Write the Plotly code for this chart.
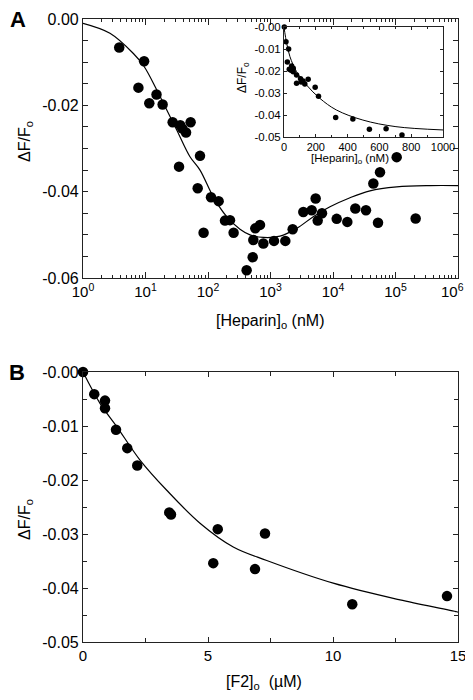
import plotly.graph_objects as go

# ---------------- data: panel A (main, log x) ----------------
hep_x = [3.8, 9.5, 7.7, 15, 11.5, 18.8, 27.2, 36, 52.7, 44.5, 39, 74.5,
         34.4, 68.4, 111.7, 148, 187, 225, 85, 257,
         415, 519, 531, 571, 679, 768, 1138, 1727, 2263, 3350, 4560, 5280,
         6670, 5690, 11460, 16950, 22750, 33700, 44200, 56500, 52500,
         104500, 210000]
hep_y = [-0.0066, -0.0098, -0.0159, -0.0175, -0.0195, -0.0198, -0.0239, -0.0246,
         -0.0239, -0.0263, -0.0254, -0.0317,
         -0.0342, -0.0392, -0.0413, -0.0422, -0.0467, -0.0466, -0.0495, -0.0495,
         -0.0582, -0.0552, -0.0512, -0.0485, -0.0477, -0.0520, -0.0514, -0.0514,
         -0.0487, -0.0447, -0.0443, -0.0416, -0.0450, -0.0467, -0.0463, -0.0470,
         -0.0439, -0.0443, -0.0381, -0.0355, -0.0472, -0.0320, -0.0462]

fitA_x = [1, 2.7, 6.4, 9.5, 15.1, 21.9, 31.6, 51.5, 74.5, 121.6, 199.5, 325,
          470, 768, 1419, 2624, 4842, 8954, 18710, 39080, 104700, 354800, 1000000]
fitA_y = [-0.0010, -0.0033, -0.0080, -0.0110, -0.0164, -0.0211, -0.0257, -0.0319,
          -0.0350, -0.0412, -0.0458, -0.0487, -0.0500, -0.0506, -0.0503, -0.0485,
          -0.0458, -0.0435, -0.0414, -0.0398, -0.0389, -0.0386, -0.0386]

# ---------------- data: inset (linear x) ----------------
ins_x = [2, 12.5, 29, 21, 33, 48, 58, 58, 44, 79, 79, 104, 108, 131, 120, 152,
         196, 217, 325, 433, 537, 642, 742]
ins_y = [0.0, -0.0067, -0.0100, -0.0159, -0.0192, -0.0177, -0.0188, -0.0203,
         -0.0197, -0.0218, -0.0256, -0.0235, -0.0250, -0.0259, -0.0245, -0.0238,
         -0.0274, -0.0315, -0.0411, -0.0418, -0.0465, -0.0462, -0.0491]
fitI_x = [0, 5, 17, 37.5, 79, 142, 225, 329, 496, 704, 1000]
fitI_y = [0.0, -0.0025, -0.0074, -0.0135, -0.0203, -0.0264, -0.0324, -0.0377,
          -0.0423, -0.0453, -0.0468]

# ---------------- data: panel B ----------------
f2_x = [0.0, 0.45, 0.88, 0.88, 1.32, 1.77, 2.17, 3.45, 3.52, 5.39, 5.21, 6.88, 7.28,
        10.77, 14.56]
f2_y = [0.0, -0.0041, -0.0053, -0.0067, -0.0107, -0.0141, -0.0173, -0.0260, -0.0264,
        -0.0291, -0.0354, -0.0365, -0.0299, -0.0430, -0.0415]
fitB_x = [0, 0.68, 1.35, 2.28, 3.35, 4.68, 6.01, 7.35, 10.01, 12.68, 14.95, 15]
fitB_y = [0.0, -0.0058, -0.0101, -0.0163, -0.0219, -0.0280, -0.0324, -0.0349,
          -0.0391, -0.0422, -0.0444, -0.0445]

# tick labels
A_xticks = [1, 10, 100, 1000, 10000, 100000, 1000000]
A_xtext = ["10<sup>%d</sup>" % i for i in range(7)]
A_yticks = [0, -0.02, -0.04, -0.06]
A_ytext = ["0.00", "-0.02", "-0.04", "-0.06"]
I_xticks = [0, 200, 400, 600, 800, 1000]
I_yticks = [0, -0.01, -0.02, -0.03, -0.04, -0.05]
I_ytext = ["-0.00", "-0.01", "-0.02", "-0.03", "-0.04", "-0.05"]
B_xticks = [0, 5, 10, 15]
B_yticks = [0, -0.01, -0.02, -0.03, -0.04, -0.05]
B_ytext = ["-0.00", "-0.01", "-0.02", "-0.03", "-0.04", "-0.05"]

FONT = "Liberation Sans, Arial, Helvetica, sans-serif"
OFF = 8                                   # page body margin of the html page
W, H = 473 - 2 * OFF, 700 - 2 * OFF       # figure size so the page does not overflow
def px(x): return (x - OFF) / W
def py(y): return 1 - (y - OFF) / H

fig = go.Figure()
# panel A
fig.add_trace(go.Scatter(x=fitA_x, y=fitA_y, mode="lines", line=dict(color="black", width=1.2, shape="spline"),
                         xaxis="x", yaxis="y", hoverinfo="skip"))
fig.add_trace(go.Scatter(x=hep_x, y=hep_y, mode="markers", marker=dict(color="black", size=10.5),
                         xaxis="x", yaxis="y"))
# panel B
fig.add_trace(go.Scatter(x=fitB_x, y=fitB_y, mode="lines", line=dict(color="black", width=1.2, shape="spline"),
                         xaxis="x2", yaxis="y2", hoverinfo="skip"))
fig.add_trace(go.Scatter(x=f2_x, y=f2_y, mode="markers", marker=dict(color="black", size=10.5),
                         xaxis="x2", yaxis="y2", cliponaxis=False))
# inset
fig.add_trace(go.Scatter(x=fitI_x, y=fitI_y, mode="lines", line=dict(color="black", width=1, shape="spline"),
                         xaxis="x3", yaxis="y3", hoverinfo="skip"))
fig.add_trace(go.Scatter(x=ins_x, y=ins_y, mode="markers", marker=dict(color="black", size=5.5),
                         xaxis="x3", yaxis="y3", cliponaxis=False))

axcommon = dict(showline=True, linecolor="#222", linewidth=1.2, mirror="ticks", ticks="inside",
                tickcolor="#222", tickwidth=1, showgrid=False, zeroline=False, fixedrange=True,
                automargin=False, ticklabeloverflow="allow")

minorA = [m * 10 ** d for d in range(6) for m in range(2, 10)]

# the last decade label would be clipped by the window edge: draw it as a
# right-anchored annotation instead of a tick label
A_xtext_axis = A_xtext[:-1] + [""]

fig.update_layout(
    width=W, height=H, margin=dict(l=0, r=0, t=0, b=0, pad=0, autoexpand=False),
    paper_bgcolor="white", plot_bgcolor="rgba(0,0,0,0)",
    showlegend=False, font=dict(family=FONT, color="black"),
    xaxis=dict(axcommon, type="log", range=[0, 6], domain=[px(83), px(458)], anchor="y",
               tickvals=A_xticks, ticktext=A_xtext_axis, ticklen=6,
               tickfont=dict(size=15),
               minor=dict(tickvals=minorA, ticks="inside", ticklen=3, tickcolor="#222")),
    yaxis=dict(axcommon, range=[-0.06, 0], domain=[py(278), py(19)], anchor="x",
               tickvals=A_yticks, ticktext=A_ytext, ticklen=5, tickfont=dict(size=16),
               minor=dict(dtick=0.005, tick0=0, ticks="inside", ticklen=5, tickcolor="#222")),
    xaxis2=dict(axcommon, range=[0, 15], domain=[px(83), px(458)], anchor="y2",
                tickvals=B_xticks, ticktext=[str(v) for v in B_xticks], ticklen=5,
                tickfont=dict(size=15),
                minor=dict(dtick=2.5, tick0=0, ticks="inside", ticklen=4, tickcolor="#222")),
    yaxis2=dict(axcommon, range=[-0.05, 0], domain=[py(642), py(372)], anchor="x2",
                tickvals=B_yticks, ticktext=B_ytext, ticklen=5, tickfont=dict(size=16),
                minor=dict(dtick=0.005, tick0=0, ticks="inside", ticklen=4, tickcolor="#222")),
    xaxis3=dict(axcommon, range=[0, 1000], domain=[px(284), px(443)], anchor="y3",
                tickvals=I_xticks, ticktext=[str(v) for v in I_xticks], ticklen=3,
                tickfont=dict(size=11), linewidth=1,
                minor=dict(dtick=100, tick0=0, ticks="inside", ticklen=2, tickcolor="#222")),
    yaxis3=dict(axcommon, range=[-0.05, 0], domain=[py(137), py(27)], anchor="x3",
                tickvals=I_yticks, ticktext=I_ytext, ticklen=3, tickfont=dict(size=11.5), linewidth=1),
)

ann = [
    dict(text="<b>A</b>", x=px(18), y=py(19), font=dict(size=22)),
    dict(text="<b>B</b>", x=px(17), y=py(372), font=dict(size=22)),
    dict(text="ΔF/F<sub>o</sub>", x=px(25), y=py(142), textangle=-90, font=dict(size=16)),
    dict(text="[Heparin]<sub>o</sub> (nM)", x=px(270), y=py(322), font=dict(size=16)),
    dict(text="ΔF/F<sub>o</sub>", x=px(243), y=py(78), textangle=-90, font=dict(size=12)),
    dict(text="[Heparin]<sub>o</sub> (nM)", x=px(350), y=py(159), font=dict(size=11.5)),
    dict(text="ΔF/F<sub>o</sub>", x=px(25), y=py(520), textangle=-90, font=dict(size=16)),
    dict(text="[F2]<sub>o</sub>  (µM)", x=px(264), y=py(682), font=dict(size=16)),
]
for a in ann:
    fig.add_annotation(xref="paper", yref="paper", showarrow=False, xanchor="center", yanchor="middle", **a)

# last decade label of panel A, kept inside the visible window
fig.add_annotation(xref="paper", yref="paper", showarrow=False, xanchor="right", yanchor="top",
                   x=1.0, y=py(280), text=A_xtext[-1], font=dict(size=15), borderpad=0)

fig.write_html("out.html")
